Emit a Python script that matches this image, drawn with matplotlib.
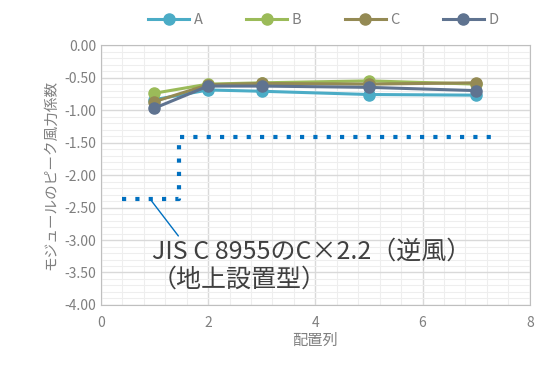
import matplotlib.pyplot as plt
from matplotlib.ticker import MultipleLocator, FormatStrFormatter

plt.rcParams['font.family'] = ['Noto Sans CJK JP', 'DejaVu Sans']

x_cols = [1, 2, 3, 5, 7]
series = {
    'A': [-0.84, -0.69, -0.71, -0.76, -0.77],
    'B': [-0.74, -0.60, -0.58, -0.55, -0.60],
    'C': [-0.87, -0.61, -0.59, -0.60, -0.58],
    'D': [-0.97, -0.63, -0.63, -0.65, -0.70],
}
colors = {'A': '#4BACC6', 'B': '#9BBB59', 'C': '#948A54', 'D': '#5F7390'}

# JIS C 8955 C x 2.2 step line
jis_x = [0.4, 1.45, 1.45, 7.4]
jis_y = [-2.37, -2.37, -1.41, -1.41]


def main():
    fig = plt.figure(figsize=(5.39, 3.67), dpi=100)
    ax = fig.add_axes([0.187, 0.169, 0.796, 0.708])

    for name, vals in series.items():
        ax.plot(x_cols, vals, color=colors[name], marker='o', markersize=8,
                linewidth=2.2, label=name, zorder=3)

    ax.plot(jis_x, jis_y, color='#0070C0', linestyle=(0, (1, 2.2)),
            linewidth=3, zorder=2)

    ax.annotate('JIS C 8955のC×2.2（逆風）\n（地上設置型）',
                xy=(0.92, -2.37), xytext=(0.95, -2.98),
                fontsize=18, color='#404040', va='top', ha='left',
                linespacing=1.1,
                arrowprops=dict(arrowstyle='-', color='#0070C0', lw=1,
                                shrinkA=0, shrinkB=0,
                                relpos=(0.09, 1.0)))

    ax.set_xlim(0, 8)
    ax.set_ylim(-4, 0)
    ax.xaxis.set_major_locator(MultipleLocator(2))
    ax.xaxis.set_minor_locator(MultipleLocator(0.4))
    ax.yaxis.set_major_locator(MultipleLocator(0.5))
    ax.yaxis.set_minor_locator(MultipleLocator(0.1))
    ax.yaxis.set_major_formatter(FormatStrFormatter('%.2f'))
    ax.grid(which='major', color='#D9D9D9', linewidth=1)
    ax.grid(which='minor', color='#EEEEEE', linewidth=0.8)
    ax.set_axisbelow(True)
    ax.tick_params(which='both', length=0, colors='#7F7F7F', labelsize=10)
    ax.tick_params(axis='x', pad=8)
    for s in ax.spines.values():
        s.set_color('#BFBFBF')

    ax.set_xlabel('配置列', color='#7F7F7F', fontsize=11, labelpad=1)
    ax.set_ylabel('モジュールのピーク風力係数', color='#7F7F7F', fontsize=10.5, labelpad=4)

    fig.legend(loc='upper center', bbox_to_anchor=(0.6, 1.0), ncol=4,
               frameon=False, fontsize=10.5, labelcolor='#7F7F7F',
               handlelength=2.8, columnspacing=3.0, handletextpad=0.3)

    fig.savefig('out.png', dpi=100)


if __name__ == "__main__":
    main()
